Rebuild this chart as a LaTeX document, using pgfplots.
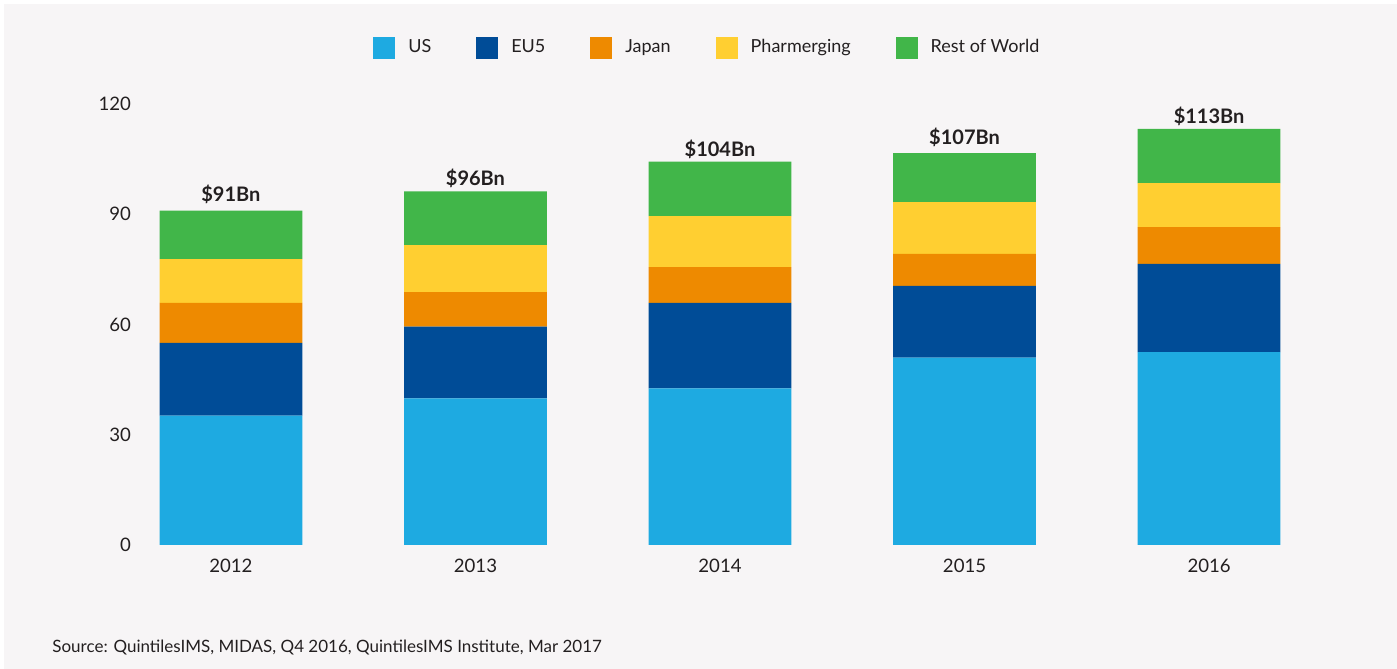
\documentclass[border=0pt]{standalone}
\usepackage{fontspec}
\setmainfont{Lato}
\usepackage{pgfplots}
\pgfplotsset{compat=1.18}

\definecolor{bgc}{HTML}{F7F5F6}
\definecolor{txt}{HTML}{231F20}
\definecolor{cUS}{HTML}{1EAAE1}
\definecolor{cEU}{HTML}{004C97}
\definecolor{cJP}{HTML}{EE8A00}
\definecolor{cPH}{HTML}{FFCF31}
\definecolor{cRW}{HTML}{41B649}

\begin{document}
\begin{tikzpicture}
\useasboundingbox (0,0) rectangle (698.5pt,334.5pt);
\fill[bgc] (2pt,0) rectangle (698.5pt,332.5pt);
\begin{axis}[
  at={(69pt,62pt)}, anchor=south west,
  scale only axis, width=582pt, height=220.5pt,
  ybar stacked, bar width=0.584,
  xmin=-0.38, xmax=4.38,
  ymin=0, ymax=120,
  ytick={0,30,60,90,120},
  xtick={0,1,2,3,4},
  xticklabels={2012,2013,2014,2015,2016},
  axis line style={draw=none},
  tick style={draw=none},
  major tick length=0pt,
  /pgf/number format/assume math mode=true,
  ticklabel style={font=\fontsize{9.3}{11}\selectfont, text=txt},
  xticklabel style={yshift=-3.5pt},
  legend columns=5,
  legend style={draw=none, fill=none, at={(0.490,1.128)}, anchor=center,
    font=\fontsize{9}{11}\selectfont, text=txt,
    /tikz/every odd column/.append style={column sep=4.5pt},
    /tikz/every even column/.append style={column sep=20.5pt}},
  legend image code/.code={\fill[#1] (0pt,-5.5pt) rectangle (11pt,5.5pt);},
]
\addplot[fill=cUS, draw=none] coordinates {(0,35.2) (1,39.9) (2,42.6) (3,51.0) (4,52.5)};
\addplot[fill=cEU, draw=none] coordinates {(0,19.8) (1,19.5) (2,23.3) (3,19.5) (4,24.0)};
\addplot[fill=cJP, draw=none] coordinates {(0,10.9) (1,9.4) (2,9.7) (3,8.7) (4,10.0)};
\addplot[fill=cPH, draw=none] coordinates {(0,11.9) (1,12.8) (2,13.9) (3,14.1) (4,12.0)};
\addplot[fill=cRW, draw=none,
  point meta=explicit symbolic,
  nodes near coords,
  every node near coord/.append style={font=\fontsize{10}{12}\selectfont\bfseries, text=txt, yshift=20pt}]
  coordinates {(0,13.2) [\$91Bn] (1,14.6) [\$96Bn] (2,14.8) [\$104Bn] (3,13.3) [\$107Bn] (4,14.7) [\$113Bn]};
\legend{US,EU5,Japan,Pharmerging,Rest of World}
\end{axis}
\node[anchor=west, text=txt, font=\fontsize{8.5}{10}\selectfont, inner sep=0pt] at (26pt,11pt)
  {Source: QuintilesIMS, MIDAS, Q4 2016, QuintilesIMS Institute, Mar 2017};
\end{tikzpicture}
\end{document}
